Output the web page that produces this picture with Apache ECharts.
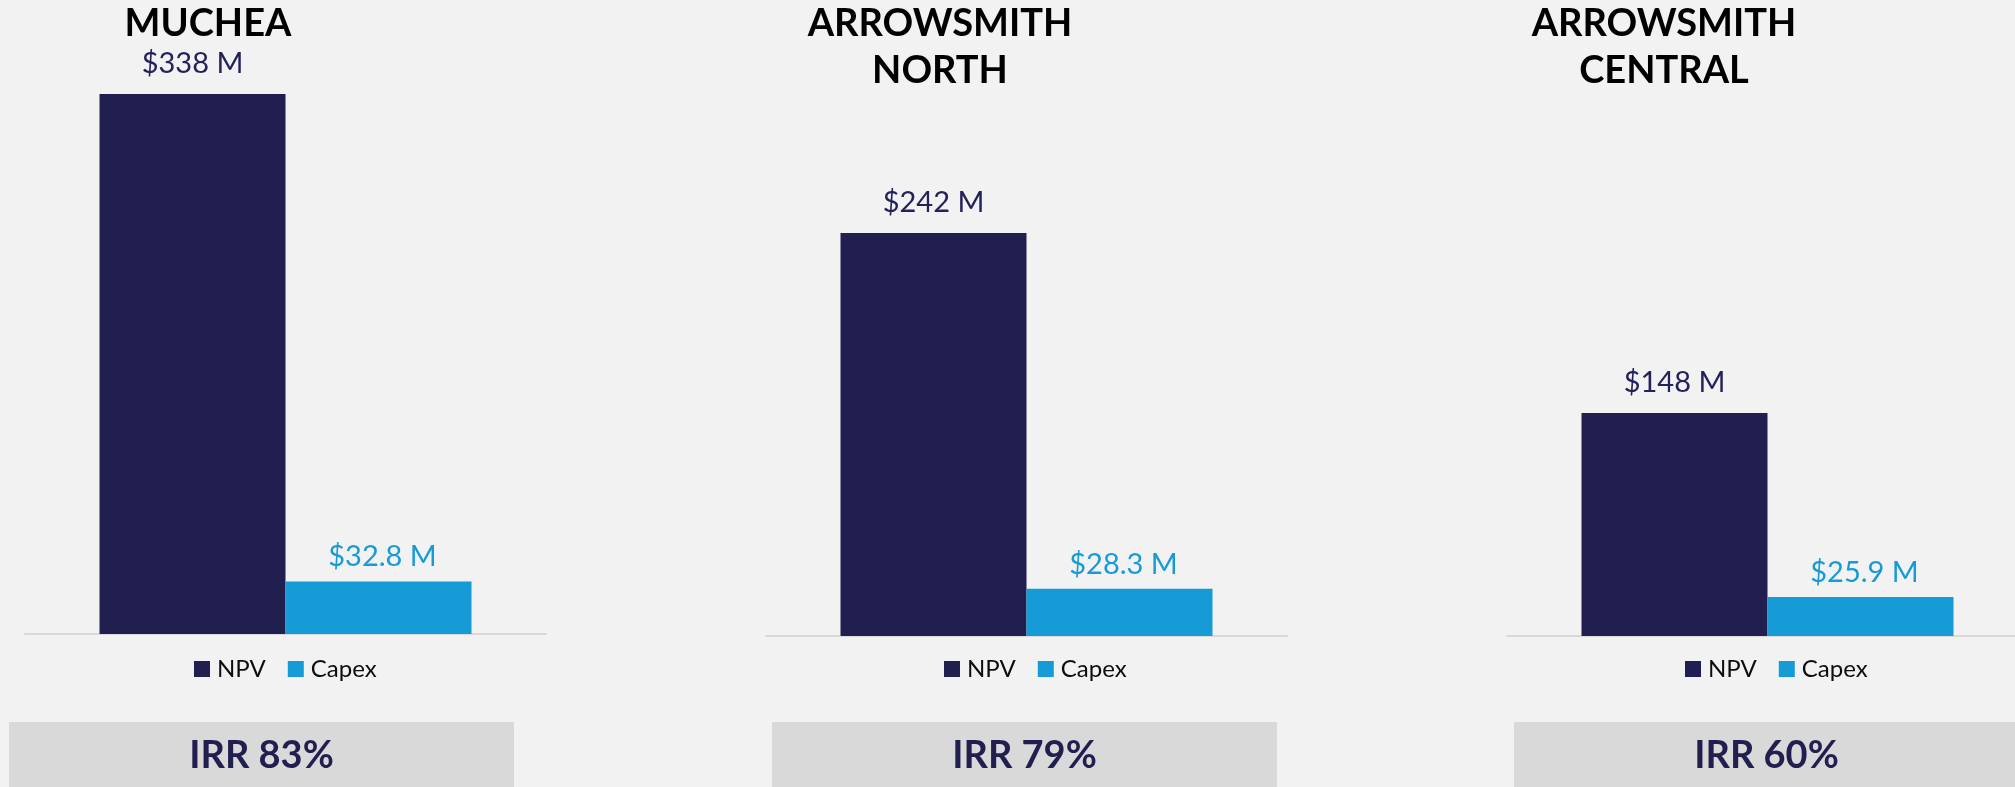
<!DOCTYPE html>
<html>
<head>
<meta charset="utf-8">
<script src="https://cdn.jsdelivr.net/npm/echarts/dist/echarts.min.js"></script>
<style>
  html, body { margin: 0; padding: 0; background: #F2F2F2; }
  #chart { width: 2015px; height: 787px; }
</style>
</head>
<body>
<div id="chart"></div>
<script>
// ---- data ----
const projects = ['MUCHEA', 'ARROWSMITH\nNORTH', 'ARROWSMITH\nCENTRAL'];
const seriesNames = ['NPV', 'Capex'];
const npv = [338, 242, 148];        // $ M
const capex = [32.8, 28.3, 25.9];   // $ M
const irr = [83, 79, 60];           // %

// ---- layout / style ----
const NAVY = '#211F4F';
const BLUE = '#179BD7';
const W = 2015, H = 787;
const panelLeft = [25, 766, 1507];
const panelWidth = 521;
const gridBottomY = [634, 636, 636];
const gridTopY = 40;
// axis max chosen per panel to reproduce each panel's own scale
const yMax = [371.8, 357.9, 395.6];
const legendLeft = [194, 944, 1685];
const titleCenter = [208, 940, 1664];
const irrBoxLeft = [9, 772, 1514];
const irrBoxWidth = 505;

const grids = [], xAxes = [], yAxes = [], series = [], legends = [], graphics = [];

projects.forEach((name, i) => {
  grids.push({ left: panelLeft[i], width: panelWidth, top: gridTopY, bottom: H - gridBottomY[i],
    containLabel: false, outerBoundsMode: 'none' });
  xAxes.push({
    type: 'category', gridIndex: i, data: [name.replace('\n', ' ')],
    axisLabel: { show: false }, axisTick: { show: false },
    axisLine: { show: true, lineStyle: { color: '#D9D9D9', width: 2 } }
  });
  yAxes.push({ type: 'value', gridIndex: i, min: 0, max: yMax[i], show: false, splitLine: { show: false } });

  series.push({
    type: 'bar', name: seriesNames[0], xAxisIndex: i, yAxisIndex: i,
    data: [npv[i]], barGap: '0%', barWidth: 186,
    itemStyle: { color: NAVY },
    label: { show: true, position: 'top', distance: 16,
      formatter: p => '$' + p.value + ' M',
      color: '#23225A', fontSize: 29, fontFamily: 'Lato' }
  });
  series.push({
    type: 'bar', name: seriesNames[1], xAxisIndex: i, yAxisIndex: i,
    data: [capex[i]], barGap: '0%', barWidth: 186,
    itemStyle: { color: BLUE },
    label: { show: true, position: 'top', distance: 10, offset: [4, 0],
      formatter: p => '$' + p.value + ' M',
      color: BLUE, fontSize: 29, fontFamily: 'Lato' }
  });

  legends.push({
    data: seriesNames, left: legendLeft[i], top: 657, padding: 0,
    icon: 'rect', itemWidth: 16, itemHeight: 16, itemGap: 22,
    textStyle: { color: '#0D0D0D', fontSize: 24, fontFamily: 'Lato', padding: [0, 0, 0, 2] },
    selectedMode: false
  });

  // project title (one text per line)
  name.split('\n').forEach((line, k) => {
    graphics.push({
      type: 'text', x: titleCenter[i], y: 24 + k * 47,
      style: { text: line, align: 'center', verticalAlign: 'middle',
        fontSize: 38, fontWeight: 'bold', fontFamily: 'Lato', fill: '#000000' }
    });
  });

  // IRR box
  graphics.push({
    type: 'rect', shape: { x: irrBoxLeft[i], y: 722, width: irrBoxWidth, height: 70 },
    style: { fill: '#D9D9D9' }, z: 0
  });
  graphics.push({
    type: 'text', x: irrBoxLeft[i] + irrBoxWidth / 2, y: 756,
    style: { text: 'IRR ' + irr[i] + '%', align: 'center', verticalAlign: 'middle',
      fontSize: 38, fontWeight: 'bold', fontFamily: 'Lato', fill: NAVY }, z: 1
  });
});

const chart = echarts.init(document.getElementById('chart'), null, { renderer: 'canvas' });
chart.setOption({
  backgroundColor: '#F2F2F2',
  animation: false,
  grid: grids,
  xAxis: xAxes,
  yAxis: yAxes,
  legend: legends,
  series: series,
  graphic: graphics
});
</script>
</body>
</html>
